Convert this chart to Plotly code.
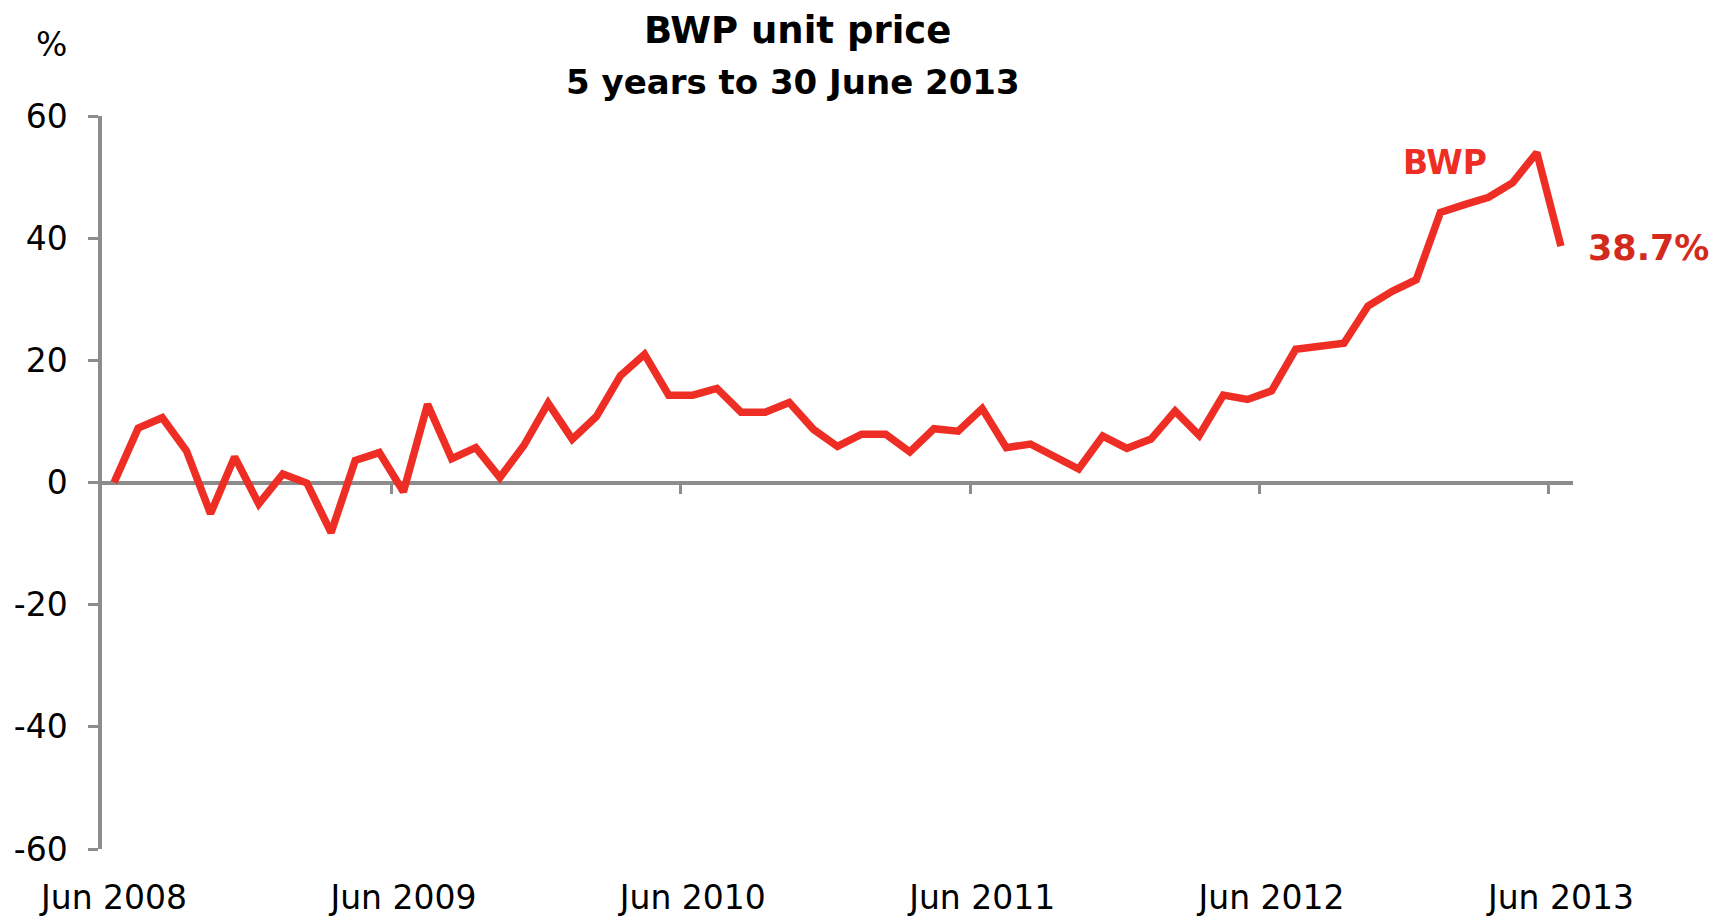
import plotly.graph_objects as go

# monthly cumulative change in BWP unit price, Jun 2008 .. Jun 2013 (%)
values = [0, 8.9, 10.6, 5.2, -5.1, 4.2, -3.5, 1.4, -0.1, -8.2, 3.6, 4.9,
          -1.5, 12.8, 3.9, 5.7, 0.8, 6.1, 13.0, 7.1, 10.8, 17.5, 21.0, 14.3,
          14.3, 15.4, 11.5, 11.5, 13.1, 8.7, 5.9, 7.9, 7.9, 5.0, 8.8, 8.4,
          12.1, 5.7, 6.3, 4.2, 2.2, 7.6, 5.6, 7.1, 11.7, 7.7, 14.3, 13.6,
          15.0, 21.8, 22.2, 22.8, 28.9, 31.3, 33.2, 44.2, 45.5, 46.7, 49.1,
          54.0, 38.7]
months = list(range(len(values)))
tick_pos = [0, 12, 24, 36, 48, 60]
tick_labels = ["Jun 2008", "Jun 2009", "Jun 2010", "Jun 2011", "Jun 2012", "Jun 2013"]
y_ticks = [-60, -40, -20, 0, 20, 40, 60]
y_labels = ["-60", "-40", "-20", "0", "20", "40", "60"]

RED = "#ee2e24"
GREY = "#8c8c8c"
FONT = "Tahoma, 'DejaVu Sans', sans-serif"

fig = go.Figure()
fig.add_trace(go.Scatter(x=months, y=values, mode="lines",
                         line=dict(color=RED, width=7.5), showlegend=False,
                         hoverinfo="x+y"))
# helper trace so the tick-mark axis gets drawn
fig.add_trace(go.Scatter(x=[], y=[], xaxis="x2", showlegend=False, hoverinfo="skip"))

# page body adds an 8px offset, so margins are trimmed on top/left
fig.update_layout(
    width=1729, height=920,
    margin=dict(l=94, r=164, t=108, b=79),
    paper_bgcolor="white", plot_bgcolor="white",
    font=dict(family=FONT, size=33, color="black"),
    xaxis=dict(range=[-0.5, 60.5], tickvals=tick_pos, ticktext=tick_labels,
               ticks="", showline=False, showgrid=False, zeroline=False,
               ticklabelstandoff=26, automargin=False),
    # tick marks sit on the zero line, between categories
    xaxis2=dict(overlaying="x", matches="x", anchor="free", position=0.5,
                tickvals=[p - 0.5 for p in tick_pos[1:]], ticks="outside",
                ticklen=10, tickwidth=3, tickcolor=GREY, showticklabels=False,
                showline=False, showgrid=False, zeroline=False, automargin=False),
    yaxis=dict(range=[-60, 60], tickvals=y_ticks, ticktext=y_labels, showgrid=False,
               showline=True, linecolor=GREY, linewidth=3.5,
               ticks="outside", ticklen=10, tickwidth=3, tickcolor=GREY,
               zeroline=True, zerolinecolor=GREY, zerolinewidth=3.5,
               ticklabelstandoff=14, automargin=False),
)

fig.add_annotation(text="<b>BWP unit price</b>", xref="paper", yref="paper",
                   x=0.473, y=1.117, xanchor="center", yanchor="middle",
                   showarrow=False, font=dict(size=37))
fig.add_annotation(text="<b>5 years to 30 June 2013</b>", xref="paper", yref="paper",
                   x=0.470, y=1.047, xanchor="center", yanchor="middle",
                   showarrow=False, font=dict(size=34))
fig.add_annotation(text="%", xref="paper", yref="paper", x=-0.034, y=1.098,
                   xanchor="center", yanchor="middle", showarrow=False,
                   font=dict(size=33))
fig.add_annotation(text="<b>BWP</b>", x=55.2, y=52.4, xanchor="center",
                   yanchor="middle", showarrow=False, font=dict(size=33, color=RED))
fig.add_annotation(text="<b>38.7%</b>", xref="paper", yref="paper",
                   x=(1648 - 102) / 1471, y=(849 - 248) / 733,
                   xanchor="center", yanchor="middle", showarrow=False,
                   font=dict(size=35, color="#d42a1e"))

fig.write_html("out.html")
